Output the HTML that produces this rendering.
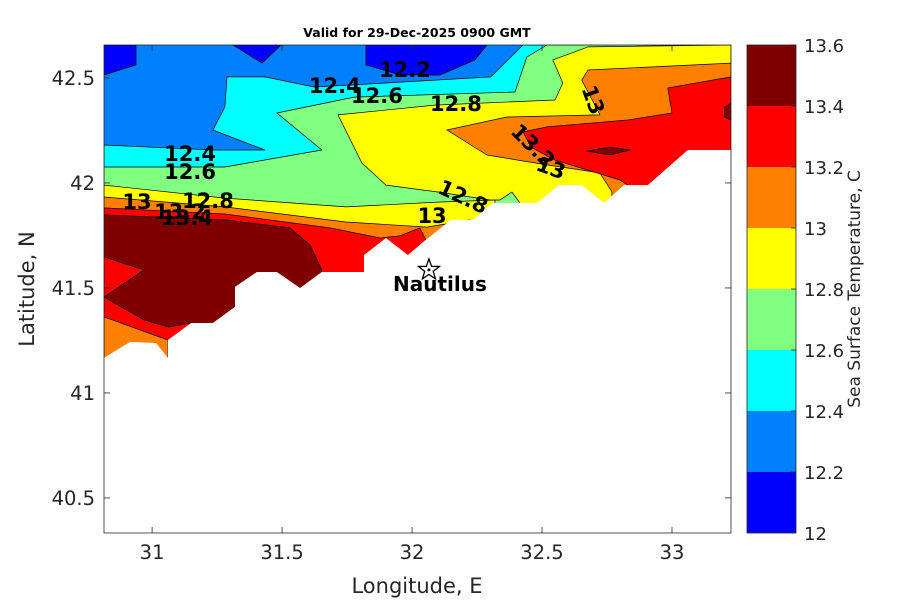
<!DOCTYPE html>
<html><head><meta charset="utf-8">
<style>
html,body{margin:0;padding:0;background:#fff;}
svg{display:block;font-family:"DejaVu Sans","Liberation Sans",sans-serif;}
</style></head>
<body>
<svg id="chart" width="900" height="600" viewBox="0 0 900 600" xmlns="http://www.w3.org/2000/svg">
<text x="417" y="37" text-anchor="middle" font-size="12.5" font-weight="bold">Valid for 29-Dec-2025 0900 GMT</text>
<g id="plot"></g>
<g id="axes"></g>
<g id="cbar"></g>
<text x="417" y="593" text-anchor="middle" font-size="21" fill="#262626">Longitude, E</text>
<text transform="translate(34,289) rotate(-90)" text-anchor="middle" font-size="21" fill="#262626">Latitude, N</text>
<text transform="translate(860,289) rotate(-90)" text-anchor="middle" font-size="17" fill="#262626">Sea Surface Temperature, C</text>
</svg>
<script>
// ---- data ----
const xTicks = [31, 31.5, 32, 32.5, 33];
const yTicks = [40.5, 41, 41.5, 42, 42.5];
const cbLevels = [12, 12.2, 12.4, 12.6, 12.8, 13, 13.2, 13.4, 13.6];
const cbColors = ["#0000ff","#0080ff","#00ffff","#80ff80","#ffff00","#ff8000","#ff0000","#800000"];
// contour regions [lon,lat], band value = lower bound
const regionGe124 = [[30.815,42.181],[31.234,42.157],[31.434,42.157],[31.234,42.252],[31.280,42.362],[31.288,42.505],[31.434,42.505],[31.623,42.457],[31.900,42.476],[32.303,42.505],[32.427,42.657],[33.227,42.657],[33.227,40.333],[30.815,40.333]];
const regionGe126 = [[30.815,42.076],[31.280,42.076],[31.653,42.157],[31.480,42.333],[31.777,42.409],[32.396,42.433],[32.442,42.600],[32.519,42.657],[33.227,42.657],[33.227,40.333],[30.815,40.333]];
const regionGe128Coast = [[30.815,41.990],[31.280,41.928],[31.746,41.886],[32.100,41.909],[32.319,41.919],[32.319,40.333],[30.815,40.333]];
const regionGe128Inner = [[31.900,41.990],[32.100,41.957],[32.300,41.919],[32.338,41.919],[32.384,41.957],[32.415,41.905],[32.415,40.333],[33.227,40.333],[33.227,42.657],[32.677,42.648],[32.542,42.586],[32.580,42.476],[32.550,42.395],[32.088,42.371],[31.715,42.324],[31.807,42.095]];
const regionGe130Coast = [[30.815,41.933],[31.280,41.886],[31.746,41.814],[32.057,41.790],[32.223,41.824],[32.223,40.333],[30.815,40.333]];
const regionGe130Inner = [[33.227,42.571],[32.677,42.538],[32.653,42.490],[32.723,42.324],[32.365,42.314],[32.134,42.252],[32.288,42.133],[32.519,42.086],[32.723,42.048],[32.769,41.957],[32.769,40.333],[33.227,40.333]];
const regionGe132Coast = [[30.815,41.881],[31.280,41.852],[31.684,41.786],[31.877,41.738],[31.953,41.748],[32.030,41.786],[32.053,41.729],[32.053,40.333],[30.815,40.333]];
const regionGe132Inner = [[33.227,42.505],[32.984,42.452],[33.0,42.333],[32.830,42.300],[32.519,42.267],[32.427,42.243],[32.457,42.171],[32.550,42.109],[32.800,42.014],[32.830,41.990],[32.830,40.333],[33.227,40.333]];
const regionGe130SW = [[30.815,41.362],[30.953,41.300],[31.061,41.252],[31.061,40.333],[30.815,40.333]];
const regionGe134 = [[30.815,41.848],[31.280,41.824],[31.530,41.786],[31.607,41.705],[31.653,41.586],[31.653,40.967],[31.150,40.967],[31.150,41.333],[31.065,41.314],[30.969,41.348],[30.815,41.457],[30.969,41.586],[30.815,41.648]];
const regionGe134Blob = [[32.672,42.152],[32.761,42.171],[32.838,42.157],[32.761,42.133]];
const regionGe134Edge = [[33.203,42.362],[33.227,42.381],[33.227,42.300],[33.203,42.314]];
const regionLt122a = [[30.815,42.657],[30.938,42.657],[30.938,42.562],[30.815,42.514]];
const regionLt122b = [[31.311,42.657],[31.496,42.657],[31.423,42.571]];
const regionLt122c = [[31.823,42.657],[32.288,42.657],[32.242,42.586],[32.107,42.514],[31.953,42.514],[31.823,42.562]];
const landMask = [[30.815,41.167],[30.915,41.243],[31.015,41.238],[31.061,41.167],[31.061,41.252],[31.150,41.333],[31.234,41.333],[31.319,41.410],[31.319,41.505],[31.403,41.576],[31.480,41.576],[31.569,41.500],[31.653,41.576],[31.815,41.576],[31.815,41.657],[31.900,41.738],[31.984,41.657],[32.053,41.729],[32.150,41.824],[32.234,41.824],[32.311,41.905],[32.396,41.905],[32.480,41.905],[32.565,41.990],[32.653,41.990],[32.738,41.905],[32.815,41.990],[32.907,41.990],[33.061,42.157],[33.227,42.157],[33.227,40.333],[30.815,40.333]];
const labelTexts = ["12.2","12.4","12.6","12.8","13","12.4","12.6","13","12.8","13.2","13.4","13.2","13","12.8","13"];
const labelLons = [31.973,31.703,31.865,32.169,32.696,31.146,31.146,30.942,31.215,31.107,31.134,32.465,32.534,32.196,32.077];
const labelLats = [42.538,42.462,42.414,42.376,42.395,42.138,42.052,41.909,41.914,41.862,41.833,42.176,42.071,41.933,41.843];
const labelRots = [0,0,0,0,70,0,0,0,0,0,0,45,20,25,0];
const siteLon = 32.065, siteLat = 41.586, siteName = "Nautilus";

// ---- axes ----
const X0=104,X1=731,Y0=45,Y1=533;
const lonMin=30.815, lonMax=33.227, latMin=40.333, latMax=42.657;
const xs = v => X0 + (v-lonMin)/(lonMax-lonMin)*(X1-X0);
const ys = v => Y1 - (v-latMin)/(latMax-latMin)*(Y1-Y0);
const CB0=45,CB1=533,CBX=747,CBW=49;
const cs = v => CB1 - (v-cbLevels[0])/(cbLevels[cbLevels.length-1]-cbLevels[0])*(CB1-CB0);
const NS="http://www.w3.org/2000/svg";
const plot=document.getElementById('plot'), axes=document.getElementById('axes'), cbar=document.getElementById('cbar');
function mk(tag, attrs, parent){const e=document.createElementNS(NS,tag);for(const k in attrs)e.setAttribute(k,attrs[k]);parent.appendChild(e);return e;}

const clip=mk('clipPath',{id:'pc'},document.getElementById('chart'));
mk('rect',{x:X0,y:Y0,width:X1-X0,height:Y1-Y0},clip);
const g=mk('g',{'clip-path':'url(#pc)'},plot);

const base=mk('rect',{x:X0,y:Y0,width:X1-X0,height:Y1-Y0,fill:cbColors[1]},g);



const layers=[
 [regionGe124,2,'band-12-4'],[regionGe126,3,'band-12-6'],
 [regionGe128Coast,4,'band-12-8-coast'],[regionGe128Inner,4,'band-12-8-inner'],
 [regionGe130Coast,5,'band-13-0-coast'],[regionGe130Inner,5,'band-13-0-inner'],
 [regionGe132Coast,6,'band-13-2-coast'],[regionGe130SW,5,'band-13-0-southwest'],[regionGe132Inner,6,'band-13-2-inner'],
 [regionGe134,7,'band-13-4'],[regionGe134Blob,7,'band-13-4-blob'],[regionGe134Edge,7,'band-13-4-edge'],
 [regionLt122a,0,'band-12-0-a'],[regionLt122b,0,'band-12-0-b'],[regionLt122c,0,'band-12-0-c']
];
layers.forEach(L=>{
 const p=mk('polygon',{points:L[0].map(q=>xs(q[0]).toFixed(1)+','+ys(q[1]).toFixed(1)).join(' '),fill:cbColors[L[1]],stroke:'#000','stroke-width':0.7,'stroke-linejoin':'round'},g);
 
 
});
const land=mk('polygon',{points:landMask.map(q=>xs(q[0]).toFixed(1)+','+ys(q[1]).toFixed(1)).join(' '),fill:'#fff'},g);



labelTexts.forEach((t,i)=>{
 const x=xs(labelLons[i]), y=ys(labelLats[i]);
 const e=mk('text',{x:x,y:y,'text-anchor':'middle','dominant-baseline':'central','font-size':21,'font-weight':'bold',fill:'#000',transform:'rotate('+labelRots[i]+' '+x+' '+y+')'},g);
 e.textContent=t;
 
 
});

// site marker
const sx=xs(siteLon), sy=ys(siteLat);
let pts=[];for(let k=0;k<10;k++){const r=k%2?4.5:11;const a=-Math.PI/2+k*Math.PI/5;pts.push((sx+r*Math.cos(a)).toFixed(1)+','+(sy+r*Math.sin(a)).toFixed(1));}
const star=mk('polygon',{points:pts.join(' '),fill:'none',stroke:'#000','stroke-width':1.3},g);


const dot=mk('circle',{cx:sx,cy:sy,r:1.5,fill:'#000'},g);


const sl=mk('text',{x:sx+11,y:sy+21,'text-anchor':'middle','font-size':20,'font-weight':'bold'},g);
sl.textContent=siteName;



// axes box and ticks
const box=mk('rect',{x:X0,y:Y0,width:X1-X0,height:Y1-Y0,fill:'none',stroke:'#262626','stroke-width':0.8},axes);


xTicks.forEach(v=>{
 const x=xs(v);
 mk('line',{x1:x,y1:Y1,x2:x,y2:Y1-6,stroke:'#262626','stroke-width':0.8},axes);
 mk('line',{x1:x,y1:Y0,x2:x,y2:Y0+6,stroke:'#262626','stroke-width':0.8},axes);
 const t=mk('text',{x:x,y:Y1+26,'text-anchor':'middle','font-size':19.5,fill:'#262626'},axes);
 t.textContent=String(v);
 
 
});
yTicks.forEach(v=>{
 const y=ys(v);
 mk('line',{x1:X0,y1:y,x2:X0+6,y2:y,stroke:'#262626','stroke-width':0.8},axes);
 mk('line',{x1:X1,y1:y,x2:X1-6,y2:y,stroke:'#262626','stroke-width':0.8},axes);
 const t=mk('text',{x:X0-9,y:y+7,'text-anchor':'end','font-size':19.5,fill:'#262626'},axes);
 t.textContent=String(v);
 
 
});

// colorbar
cbColors.forEach((c,i)=>{
 const r=mk('rect',{x:CBX,y:cs(cbLevels[i+1]),width:CBW,height:cs(cbLevels[i])-cs(cbLevels[i+1]),fill:c},cbar);
 
 
});
mk('rect',{x:CBX,y:CB0,width:CBW,height:CB1-CB0,fill:'none',stroke:'#262626','stroke-width':0.8},cbar);
cbLevels.forEach(v=>{
 const y=cs(v);
 mk('line',{x1:CBX+CBW,y1:y,x2:CBX+CBW-5,y2:y,stroke:'#262626','stroke-width':0.8},cbar);
 const t=mk('text',{x:CBX+CBW+8,y:y+7,'font-size':18,fill:'#262626'},cbar);
 t.textContent=String(v);
 
 
});
</script>
</body></html>
